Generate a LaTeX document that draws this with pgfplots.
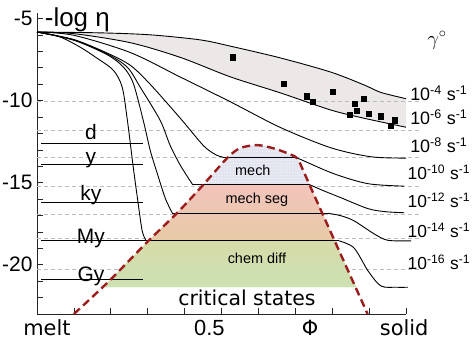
\documentclass[border=0pt]{standalone}
\usepackage{fontspec}
\setmainfont{Liberation Sans}
\newfontfamily\comic{DejaVu Sans}
\usepackage{pgfplots}
\pgfplotsset{compat=1.18}
\usepackage{pgfplotstable}
\usepgfplotslibrary{fillbetween}
\usetikzlibrary{patterns}

\definecolor{bandgray}{HTML}{ECE8E8}
\definecolor{gridgray}{HTML}{BDBDBD}
\definecolor{domered}{HTML}{9C1D1D}
\definecolor{mechblue}{HTML}{E2E5EF}
\definecolor{segpink}{HTML}{F2C4BC}
\definecolor{tanc}{HTML}{E6CBA6}
\definecolor{greenA}{HTML}{D6DBA9}
\definecolor{greenB}{HTML}{CDE1B2}

% rate curves
\pgfplotstableread{
x y
0 -5.82
0.171 -5.87
0.307 -5.99
0.443 -6.30
0.524 -6.68
0.660 -7.40
0.796 -8.26
0.886 -9.04
0.932 -9.50
1.0 -9.88
}\curveA
\pgfplotstableread{
x y
0 -5.82
0.1 -5.92
0.253 -6.47
0.389 -7.37
0.524 -8.55
0.660 -9.53
0.796 -10.57
0.886 -11.07
1.0 -11.62
}\curveB
\pgfplotstableread{
x y
0 -5.82
0.1 -6.02
0.253 -7.07
0.389 -8.57
0.524 -10.07
0.660 -11.64
0.796 -12.87
0.905 -13.42
1.0 -13.50
}\curveC
\pgfplotstableread{
x y
0 -5.82
0.1 -6.28
0.19 -7.10
0.253 -7.85
0.307 -9.01
0.389 -11.09
0.451 -12.74
0.484 -13.29
0.505 -13.45
}\curveDl
\pgfplotstableread{
x y
0.696 -13.45
0.715 -13.59
0.804 -14.45
0.897 -15.06
0.995 -15.21
}\curveDr
\pgfplotstableread{
x y
0 -5.82
0.1 -6.30
0.19 -7.15
0.245 -7.97
0.280 -9.19
0.334 -11.21
0.361 -12.74
0.389 -13.96
0.421 -15.09
}\curveEl
\pgfplotstableread{
x y
0.736 -15.09
0.769 -15.42
0.823 -15.91
0.897 -16.58
0.946 -16.77
0.995 -16.83
}\curveEr
\pgfplotstableread{
x y
0 -5.82
0.1 -6.32
0.19 -7.20
0.234 -7.95
0.261 -8.95
0.288 -11.21
0.307 -13.04
0.326 -14.44
0.348 -15.97
0.367 -16.86
}\curveFl
\pgfplotstableread{
x y
0.788 -16.86
0.823 -17.01
0.859 -17.32
0.913 -18.11
0.951 -18.51
1.014 -18.54
}\curveFr
\pgfplotstableread{
x y
0 -5.82
0.06 -6.10
0.117 -6.74
0.163 -7.42
0.207 -8.15
0.231 -9.19
0.245 -11.21
0.261 -14.08
0.272 -15.91
0.285 -17.93
0.296 -18.54
}\curveGl
\pgfplotstableread{
x y
0.818 -18.54
0.859 -18.97
0.897 -20.37
0.932 -21.29
0.973 -21.37
1.005 -21.37
}\curveGr
% critical-state dome
\pgfplotstableread{
x y
0.100 -23.0
0.195 -21.0
0.298 -18.63
0.379 -16.86
0.442 -15.34
0.515 -13.51
0.550 -12.90
0.596 -12.71
0.640 -12.90
0.678 -13.20
0.705 -13.51
0.721 -14.24
0.739 -15.15
0.773 -16.86
0.806 -18.51
0.851 -20.76
0.896 -23.0
}\dome
% measured points
\pgfplotstableread{
x y
0.530 -7.36
0.668 -8.95
0.731 -9.74
0.747 -10.05
0.802 -9.44
0.861 -10.17
0.886 -9.87
0.867 -10.60
0.848 -10.84
0.899 -10.78
0.932 -10.96
0.970 -11.20
0.959 -11.51
}\points

\newcommand{\rate}[1]{10\textsuperscript{-#1} s\textsuperscript{-1}}

\begin{document}
\begin{tikzpicture}
\begin{axis}[
  name=ax,
  scale only axis,
  width=369bp, height=301bp,
  xmin=0, xmax=1, ymin=-23, ymax=-4.66,
  axis x line*=bottom, axis y line*=left,
  clip=false,
  xtick={0,0.1,0.2,0.3,0.4,0.5,0.6,0.7,0.8,0.9,1},
  xticklabels={},
  ytick={-20,-15,-10,-5},
  yticklabels={-20,-15,-10,-5},
  minor ytick={-23,-22,-21,-19,-18,-17,-16,-14,-13,-12,-11,-9,-8,-7,-6},
  tick align=inside,
  major tick length=6bp, minor tick length=6bp,
  tick style={black!85, line width=0.7bp},
  axis line style={black!85, line width=0.8bp},
  yticklabel style={font=\fontsize{21}{21}\selectfont, xshift=-1bp},
]
% band between 10^-4 and 10^-6 curves
\addplot[draw=none, smooth, name path=cA, forget plot] table {\curveA};
\addplot[draw=none, smooth, name path=cB, forget plot] table {\curveB};
\addplot[bandgray, forget plot] fill between[of=cA and cB];

% dashed grid lines
\pgfplotsinvokeforeach{-10.03,-11.80,-13.45,-15.21,-16.92,-18.38,-20.27}{
  \addplot[gridgray, line width=0.7bp, dash pattern=on 4bp off 3bp, forget plot] coordinates {(0,#1) (1.04,#1)};
}

% dome regions
\addplot[draw=none, smooth, fill=mechblue, postaction={pattern=dots, pattern color=white}, forget plot] coordinates {
(0.452,-15.09) (0.515,-13.51) (0.550,-12.90) (0.596,-12.71) (0.640,-12.90) (0.678,-13.20) (0.705,-13.51) (0.721,-14.24) (0.738,-15.09)};
\addplot[draw=none, top color=segpink, bottom color=tanc, postaction={pattern=dots, pattern color=white}, forget plot] coordinates {
(0.452,-15.09) (0.442,-15.34) (0.379,-16.86) (0.302,-18.54) (0.807,-18.54) (0.806,-18.51) (0.773,-16.86) (0.739,-15.15) (0.738,-15.09)};
\addplot[draw=none, top color=greenA, bottom color=greenB, postaction={pattern=dots, pattern color=white}, forget plot] coordinates {
(0.302,-18.54) (0.298,-18.63) (0.195,-21.0) (0.177,-21.37) (0.866,-21.37) (0.851,-20.76) (0.807,-18.54)};

% black curves
\addplot[black, line width=0.9bp, smooth] table {\curveA};
\addplot[black, line width=0.9bp, smooth] table {\curveB};
\addplot[black, line width=0.9bp, smooth] table {\curveC};
\addplot[black, line width=0.9bp, smooth] table {\curveDl};
\addplot[black, line width=0.9bp] coordinates {(0.505,-13.45) (0.696,-13.45)};
\addplot[black, line width=0.9bp, smooth] table {\curveDr};
\addplot[black, line width=0.9bp, smooth] table {\curveEl};
\addplot[black, line width=0.9bp] coordinates {(0.421,-15.09) (0.736,-15.09)};
\addplot[black, line width=0.9bp, smooth] table {\curveEr};
\addplot[black, line width=0.9bp, smooth] table {\curveFl};
\addplot[black, line width=0.9bp] coordinates {(0.367,-16.86) (0.788,-16.86)};
\addplot[black, line width=0.9bp, smooth] table {\curveFr};
\addplot[black, line width=0.9bp, smooth] table {\curveGl};
\addplot[black, line width=0.9bp] coordinates {(0.296,-18.54) (0.818,-18.54)};
\addplot[black, line width=0.9bp, smooth] table {\curveGr};

% left reference lines (d, y, ky, My, Gy)
\addplot[black, line width=0.9bp] coordinates {(0.011,-12.59) (0.288,-12.59)};
\addplot[black, line width=0.9bp] coordinates {(0.011,-13.87) (0.288,-13.87)};
\addplot[black, line width=0.9bp] coordinates {(0.011,-16.19) (0.288,-16.19)};
\addplot[black, line width=0.9bp] coordinates {(0.011,-18.54) (0.296,-18.54)};
\addplot[black, line width=0.9bp] coordinates {(0.011,-20.88) (0.288,-20.88)};

% critical-state dome outline
\addplot[domered, line width=2.4bp, dash pattern=on 8bp off 4.5bp, smooth] table {\dome};

% data points
\addplot[only marks, mark=square*, mark size=2.7bp, black] table {\points};

% texts
\node[anchor=base west, font=\fontsize{26}{26}\selectfont] at (axis cs:0.012,-5.49) {-log η};
\node[font=\fontsize{22}{22}\selectfont] at (axis cs:1.084,-6.31) {$\gamma^{\circ}$};

\node[anchor=base, font=\fontsize{21}{21}\selectfont] at (axis cs:0.146,-12.38) {d};
\node[anchor=base, font=\fontsize{21}{21}\selectfont] at (axis cs:0.146,-13.80) {y};
\node[anchor=base, font=\fontsize{21}{21}\selectfont] at (axis cs:0.146,-16.07) {ky};
\node[anchor=base, font=\fontsize{21}{21}\selectfont] at (axis cs:0.146,-18.69) {My};
\node[anchor=base, font=\fontsize{21}{21}\selectfont] at (axis cs:0.146,-21.00) {Gy};

\node[font=\fontsize{14.5}{14.5}\selectfont] at (axis cs:0.585,-14.24) {mech};
\node[font=\fontsize{14.5}{14.5}\selectfont] at (axis cs:0.596,-16.07) {mech seg};
\node[font=\fontsize{14.5}{14.5}\selectfont] at (axis cs:0.596,-19.60) {chem diff};
\node[anchor=base, font=\comic\fontsize{20.5}{20.5}\selectfont] at (axis cs:0.569,-22.47) {critical states};

\node[anchor=west, inner xsep=0pt, font=\fontsize{18}{18}\selectfont] at (axis cs:1.011,-9.54) {\rate{4}};
\node[anchor=west, inner xsep=0pt, font=\fontsize{18}{18}\selectfont] at (axis cs:1.011,-11.00) {\rate{6}};
\node[anchor=west, inner xsep=0pt, font=\fontsize{18}{18}\selectfont] at (axis cs:1.011,-12.71) {\rate{8}};
\node[anchor=west, inner xsep=0pt, font=\fontsize{17.5}{17.5}\selectfont] at (axis cs:1.004,-14.36) {\rate{10}};
\node[anchor=west, inner xsep=0pt, font=\fontsize{17.5}{17.5}\selectfont] at (axis cs:1.004,-16.07) {\rate{12}};
\node[anchor=west, inner xsep=0pt, font=\fontsize{17.5}{17.5}\selectfont] at (axis cs:1.004,-17.90) {\rate{14}};
\node[anchor=west, inner xsep=0pt, font=\fontsize{17.5}{17.5}\selectfont] at (axis cs:1.004,-19.85) {\rate{16}};

\node[anchor=base, font=\comic\fontsize{21}{21}\selectfont] at (axis cs:0.027,-24.30) {melt};
\node[anchor=base, font=\fontsize{22}{22}\selectfont] at (axis cs:0.467,-24.30) {0.5};
\node[anchor=base, font=\comic\fontsize{21}{21}\selectfont] at (axis cs:0.740,-24.30) {Φ};
\node[anchor=base, font=\comic\fontsize{21}{21}\selectfont] at (axis cs:0.995,-24.30) {solid};
\end{axis}
\pgfresetboundingbox
\path[use as bounding box] ([shift={(-37bp,-26bp)}]ax.south west) rectangle ([shift={(437bp,314bp)}]ax.south west);
\end{tikzpicture}
\end{document}
